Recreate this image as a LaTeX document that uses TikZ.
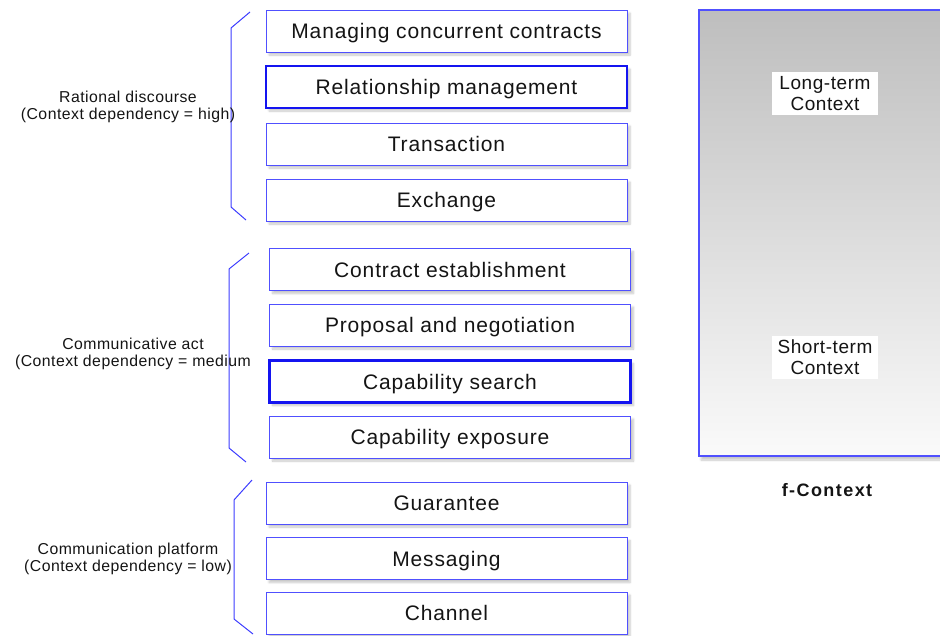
\documentclass[tikz,border=0pt]{standalone}
\usepackage{fontspec}
\setmainfont{Liberation Sans}
\usetikzlibrary{shadows.blur}
\definecolor{thinblue}{RGB}{80,80,255}
\definecolor{thickblue}{RGB}{20,20,240}
\definecolor{brkblue}{RGB}{60,60,255}
\definecolor{topgray}{RGB}{190,190,190}
\definecolor{botgray}{RGB}{250,250,250}
\definecolor{txt}{RGB}{20,20,20}
\tikzset{
  layer/.style={draw=thinblue, line width=1pt, fill=white, minimum width=361pt, minimum height=42pt,
    inner sep=0pt, text=txt, text height=15pt, text depth=0pt,
    font=\fontsize{21}{23}\selectfont\addfontfeature{LetterSpace=4},
    blur shadow={shadow xshift=3pt, shadow yshift=-3pt, shadow opacity=22, shadow blur steps=6}},
  hilite/.style={layer, draw=thickblue, line width=2.6pt},
  brk/.style={draw=brkblue, line width=1pt},
  grplabel/.style={align=center, text=txt, inner sep=0pt,
    font=\fontsize{15.8}{17}\selectfont\addfontfeature{LetterSpace=3}},
  ctxlabel/.style={fill=white, align=center, text=txt, minimum width=106pt, minimum height=43pt, inner sep=0pt,
    font=\fontsize{19}{21}\selectfont\addfontfeature{LetterSpace=3}}
}
\begin{document}
\begin{tikzpicture}[x=1pt,y=-1pt]
\useasboundingbox (0,0) rectangle (940,635);
\clip (0,0) rectangle (940,635);
% right panel
\node[draw=thinblue, line width=1.5pt, top color=topgray, bottom color=botgray, minimum width=252pt, minimum height=446pt,
  inner sep=0pt, blur shadow={shadow xshift=2pt, shadow yshift=-4pt, shadow opacity=22, shadow blur steps=6}] (ctx) at (825,233) {};
\node[ctxlabel] (lt) at (825,93.5) {Long-term\\Context};
\node[ctxlabel] (st) at (825,357.5) {Short-term\\Context};
\node[text=txt, font=\fontsize{18}{20}\bfseries\selectfont\addfontfeature{LetterSpace=8}] (fc) at (827,490) {f-Context};
% group 1
\node[layer] (m1) at (446.5,31) {Managing concurrent contracts};
\node[hilite] (m2) at (446.5,87) {Relationship management};
\node[layer] (m3) at (446.5,144) {Transaction};
\node[layer] (m4) at (446.5,200) {Exchange};
% group 2
\node[layer] (c1) at (450,269.5) {Contract establishment};
\node[layer] (c2) at (450,325) {Proposal and negotiation};
\node[hilite] (c3) at (450,381.5) {Capability search};
\node[layer] (c4) at (450,437) {Capability exposure};
% group 3
\node[layer] (p1) at (446.5,503) {Guarantee};
\node[layer] (p2) at (446.5,558.5) {Messaging};
\node[layer] (p3) at (446.5,613) {Channel};
% brackets
\coordinate (b1a) at (250,12); \coordinate (b1b) at (231,28); \coordinate (b1c) at (231,207); \coordinate (b1d) at (246,220);
\draw[brk] (b1a) -- (b1b) -- (b1c) -- (b1d);
\coordinate (b2a) at (249,253); \coordinate (b2b) at (229,269); \coordinate (b2c) at (229,448); \coordinate (b2d) at (246,462);
\draw[brk] (b2a) -- (b2b) -- (b2c) -- (b2d);
\coordinate (b3a) at (252,480); \coordinate (b3b) at (234,500); \coordinate (b3c) at (234,619); \coordinate (b3d) at (253,634);
\draw[brk] (b3a) -- (b3b) -- (b3c) -- (b3d);
% group labels
\node[grplabel] (g1) at (128,106.5) {Rational discourse\\(Context dependency = high)};
\node[grplabel] (g2) at (133,354) {Communicative act\\(Context dependency = medium};
\node[grplabel] (g3) at (128,559) {Communication platform\\(Context dependency = low)};
\end{tikzpicture}
\end{document}
